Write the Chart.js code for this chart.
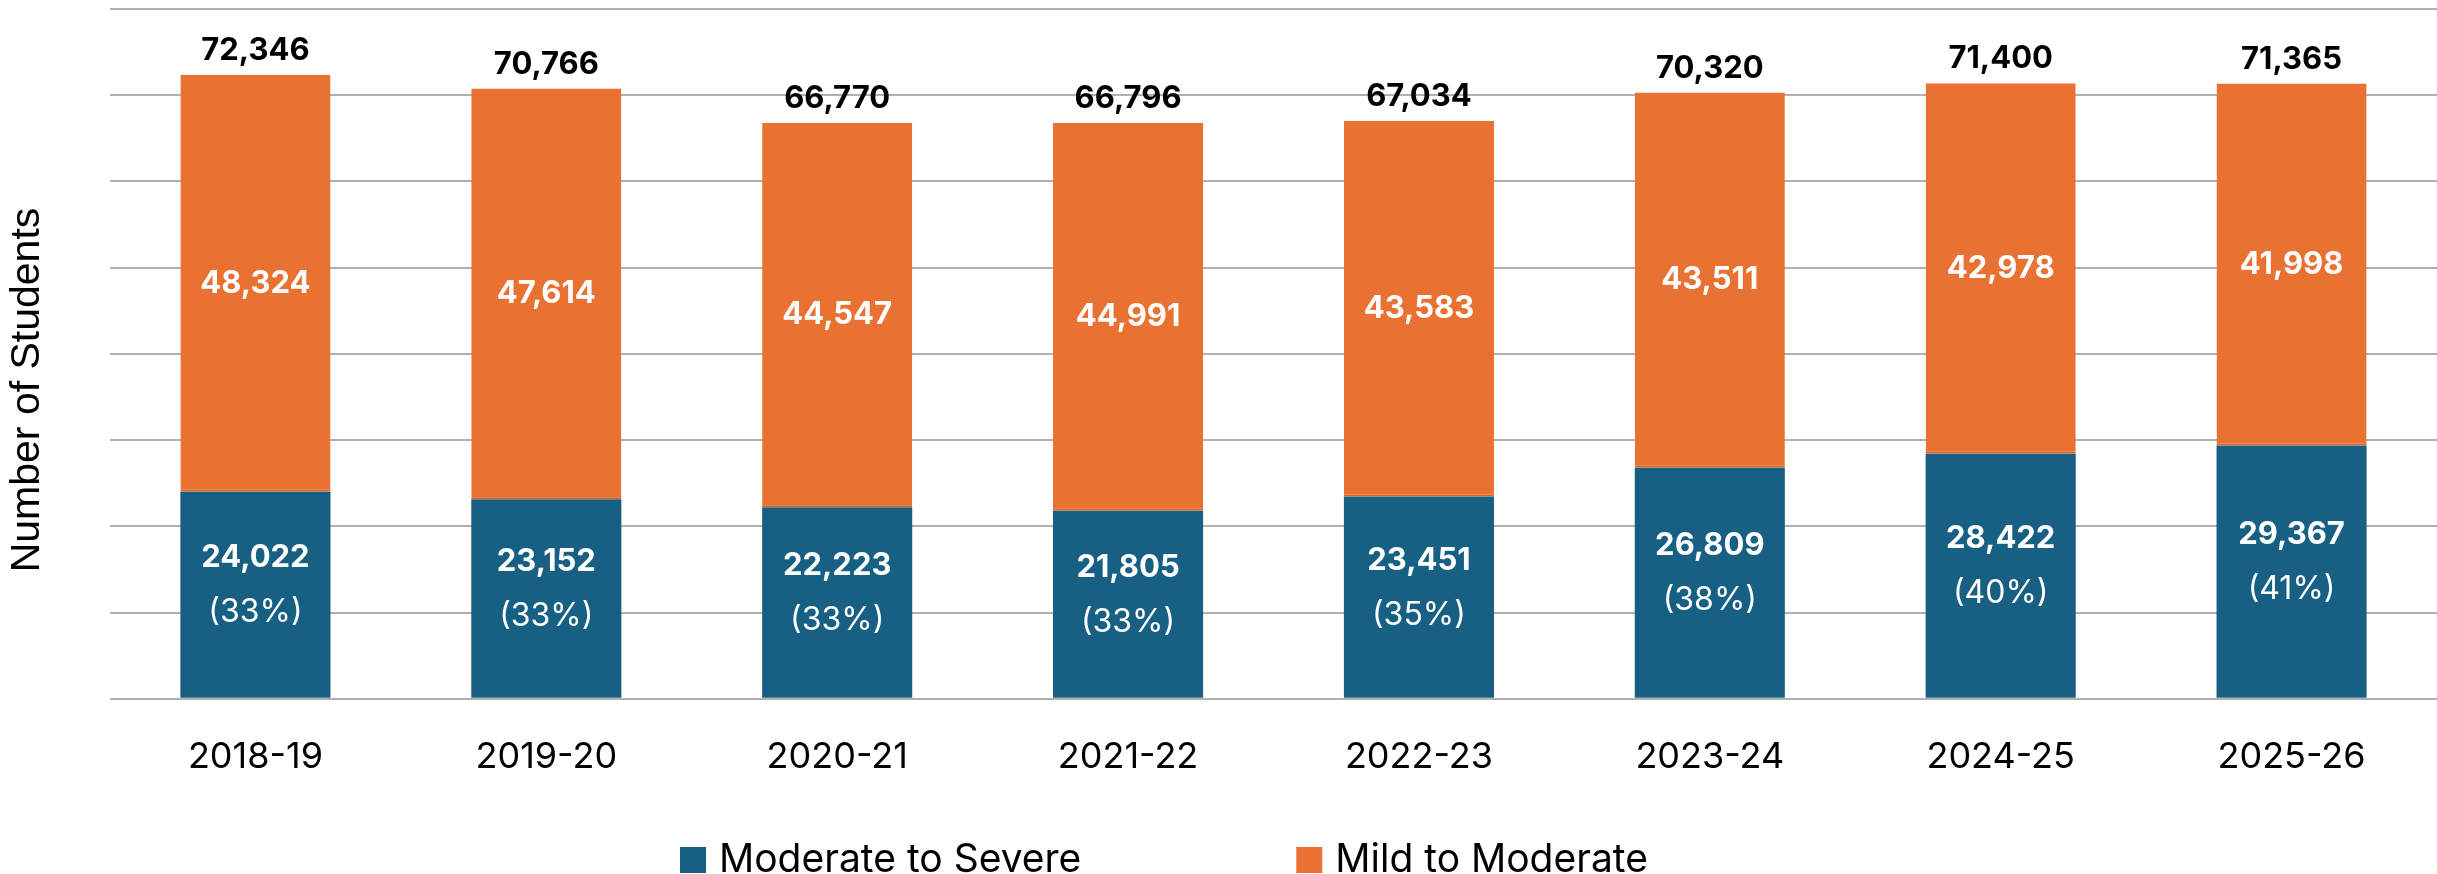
<!DOCTYPE html>
<html>
<head>
<meta charset="utf-8">
<script src="https://cdn.jsdelivr.net/npm/chart.js@4/dist/chart.umd.min.js"></script>
<style>
  html,body{margin:0;padding:0;background:#fff;}
  #wrap{width:2437px;height:874px;}
</style>
</head>
<body>
<div id="wrap"><canvas id="chart" width="2437" height="874"></canvas></div>
<script>
'use strict';

// ── data ─────────────────────────────────────────────────────────────────────
const years   = ['2018-19','2019-20','2020-21','2021-22','2022-23','2023-24','2024-25','2025-26'];
const severe  = [24022,23152,22223,21805,23451,26809,28422,29367];   // Moderate to Severe
const mild    = [48324,47614,44547,44991,43583,43511,42978,41998];   // Mild to Moderate
const totals  = [72346,70766,66770,66796,67034,70320,71400,71365];
const pctLbl  = ['(33%)','(33%)','(33%)','(33%)','(35%)','(38%)','(40%)','(41%)'];
const yTicks  = {min:0,max:80000,step:10000};

const C={blue:'#176083',orange:'#E97132',orangeEdge:'#DD611F',grid:'#b0b0b0',text:'#000'};
const SANS="Inter,'Open Sans',sans-serif";
const fmt=v=>v.toLocaleString('en-US');

// value labels inside / above the bars
const valueLabels={
  id:'valueLabels',
  afterDatasetsDraw(chart){
    const ctx=chart.ctx, blue=chart.getDatasetMeta(0).data, orng=chart.getDatasetMeta(1).data;
    ctx.save(); ctx.textAlign='center'; ctx.textBaseline='middle';
    years.forEach((_,i)=>{
      const b=blue[i], o=orng[i];
      const bMid=(b.y+b.base)/2-10;
      ctx.fillStyle='#fff';
      ctx.font=`700 31px ${SANS}`;
      ctx.fillText(fmt(severe[i]),b.x,bMid-27);
      ctx.font=`400 32px ${SANS}`;
      ctx.fillText(pctLbl[i],b.x,bMid+28);
      ctx.font=`700 31px ${SANS}`;
      ctx.fillText(fmt(mild[i]),o.x,(o.y+o.base)/2);
      ctx.fillStyle=C.text;
      ctx.fillText(fmt(totals[i]),o.x,o.y-24);
    });
    ctx.restore();
  }
};

// y title + legend drawn by hand so they sit where the reference has them
const extras={
  id:'extras',
  afterDraw(chart){
    const ctx=chart.ctx;
    ctx.save();
    ctx.translate(28,390); ctx.rotate(-Math.PI/2);
    ctx.fillStyle=C.text; ctx.font="400 41px 'Liberation Sans',Arial,sans-serif";
    ctx.textAlign='center'; ctx.textBaseline='middle';
    ctx.fillText('Number of Students',0,0);
    ctx.restore();

    ctx.save();
    ctx.font=`400 39px ${SANS}`; ctx.textBaseline='middle'; ctx.textAlign='left';
    let x=680; const y=860, box=26, gap=13, between=215;
    chart.data.datasets.forEach(ds=>{
      ctx.fillStyle=ds.backgroundColor; ctx.fillRect(x,y-box/2,box,box);
      ctx.fillStyle=C.text; ctx.fillText(ds.label,x+box+gap,y);
      x+=box+gap+ctx.measureText(ds.label).width+between;
    });
    ctx.restore();
  }
};

new Chart(document.getElementById('chart').getContext('2d'),{
  type:'bar',
  data:{labels:years,datasets:[
    {label:'Moderate to Severe',data:severe,backgroundColor:C.blue,borderWidth:0,
     barPercentage:0.516,categoryPercentage:1},
    {label:'Mild to Moderate',data:mild,backgroundColor:C.orange,borderColor:C.orangeEdge,
     borderWidth:{top:0,left:0,right:0,bottom:2},borderSkipped:false,
     barPercentage:0.516,categoryPercentage:1}
  ]},
  options:{
    responsive:false,devicePixelRatio:1,animation:false,
    layout:{padding:{left:110,top:9,right:0,bottom:58}},
    plugins:{legend:{display:false},tooltip:{enabled:false}},
    scales:{
      x:{stacked:true,grid:{display:false,drawTicks:false},border:{display:false},
         ticks:{color:C.text,padding:37,font:{family:SANS,size:36}}},
      y:{stacked:true,min:yTicks.min,max:yTicks.max,
         grid:{color:C.grid,lineWidth:2,drawTicks:false},border:{display:false},
         ticks:{display:false,stepSize:yTicks.step}}
    }
  },
  plugins:[valueLabels,extras]
});
</script>
</body>
</html>
